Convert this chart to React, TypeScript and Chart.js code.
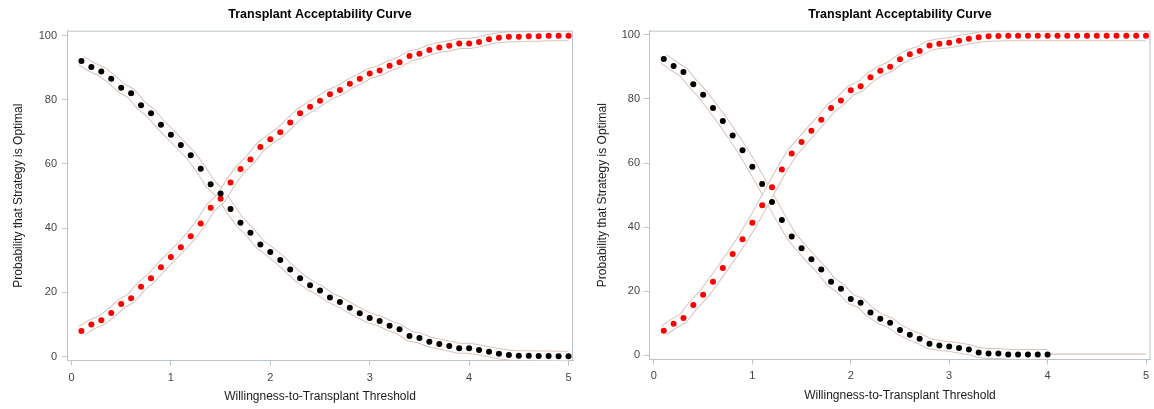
import React, { useEffect, useRef } from "react";
import { Chart, registerables } from "chart.js";

Chart.register(...registerables);

// ---------- data ----------
const thresholds = [
  0.1, 0.2, 0.3, 0.4, 0.5, 0.6, 0.7, 0.8, 0.9, 1.0,
  1.1, 1.2, 1.3, 1.4, 1.5, 1.6, 1.7, 1.8, 1.9, 2.0,
  2.1, 2.2, 2.3, 2.4, 2.5, 2.6, 2.7, 2.8, 2.9, 3.0,
  3.1, 3.2, 3.3, 3.4, 3.5, 3.6, 3.7, 3.8, 3.9, 4.0,
  4.1, 4.2, 4.3, 4.4, 4.5, 4.6, 4.7, 4.8, 4.9, 5.0,
];

// left panel
const leftBlack = [
  92.1, 90.2, 88.8, 86.5, 83.7, 82.0, 78.3, 75.8, 72.2, 69.1,
  65.9, 62.7, 58.5, 53.7, 50.8, 46.0, 41.7, 38.6, 34.9, 32.6,
  30.1, 27.1, 24.4, 22.2, 20.6, 18.4, 17.0, 15.2, 13.5, 12.0,
  11.1, 9.6, 8.5, 6.4, 5.8, 4.6, 3.9, 3.3, 2.6, 2.6,
  2.1, 1.5, 0.9, 0.5, 0.3, 0.3, 0.2, 0.2, 0.1, 0.1,
];
const leftRed = [
  8.0, 10.0, 11.3, 13.6, 16.4, 18.2, 21.8, 24.4, 27.8, 31.0,
  34.1, 37.5, 41.5, 46.4, 49.2, 54.2, 58.4, 61.4, 65.3, 67.7,
  69.9, 72.9, 75.8, 77.8, 79.7, 81.7, 83.0, 85.0, 86.5, 88.2,
  89.1, 90.6, 91.7, 93.6, 94.3, 95.5, 96.3, 96.8, 97.5, 97.5,
  98.0, 98.8, 99.3, 99.6, 99.6, 99.8, 99.8, 99.9, 99.9, 99.9,
];

// right panel
const rightBlack = [
  92.5, 90.3, 88.4, 84.6, 81.3, 77.2, 73.1, 68.6, 64.0, 58.8,
  53.4, 47.8, 42.2, 37.0, 33.4, 29.9, 26.7, 22.9, 20.7, 17.5,
  16.3, 13.3, 11.3, 10.1, 7.8, 6.3, 5.1, 3.5, 3.0, 2.7,
  2.2, 1.7, 0.8, 0.5, 0.5, 0.2, 0.2, 0.2, 0.2, 0.2,
];
const rightRed = [
  7.6, 9.8, 11.6, 15.6, 18.8, 22.9, 27.2, 31.6, 36.2, 41.3,
  46.8, 52.4, 58.0, 63.0, 66.6, 70.1, 73.5, 77.2, 79.5, 82.7,
  84.0, 86.8, 88.8, 90.1, 92.4, 94.0, 95.0, 96.7, 97.3, 97.6,
  98.2, 98.8, 99.3, 99.6, 99.7, 99.8, 99.8, 99.8, 99.8, 99.8,
  99.8, 99.8, 99.8, 99.8, 99.8, 99.8, 99.8, 99.8, 99.8, 99.8,
];
const rightBlackTailX = [4.0, 5.0];
const rightBlackTailY = [0.3, 0.3];

const xTicks = [0, 1, 2, 3, 4, 5];
const yTicks = [0, 20, 40, 60, 80, 100];

const chartTitle = "Transplant Acceptability Curve";
const xAxisTitle = "Willingness-to-Transplant Threshold";
const yAxisTitle = "Probability that Strategy is Optimal";

// ---------- styling ----------
const FONT = '"Liberation Sans", Arial, Helvetica, sans-serif';
const AXIS = "#bcc5cb";
const BAND = "#d8c3bb";
const TICK_COLOR = "#444444";
const LABEL_COLOR = "#1a1a1a";

function pts(xs: number[], ys: number[]) {
  return ys.map((y, i) => ({ x: xs[i], y }));
}

function bandSets(data: any[], order: number) {
  return [
    {
      data,
      showLine: true,
      borderColor: BAND,
      borderWidth: 11,
      borderJoinStyle: "round",
      borderCapStyle: "butt",
      pointRadius: 0,
      pointHoverRadius: 0,
      order: order + 1,
    },
    {
      data,
      showLine: true,
      borderColor: "#ffffff",
      borderWidth: 9,
      borderJoinStyle: "round",
      borderCapStyle: "butt",
      pointRadius: 0,
      pointHoverRadius: 0,
      order,
    },
  ];
}

function pointSet(data: any[], color: string) {
  return {
    data,
    showLine: false,
    pointRadius: 3,
    pointHoverRadius: 3,
    pointBackgroundColor: color,
    pointBorderWidth: 0,
    borderColor: color,
    order: 0,
  };
}

const framePlugin = {
  id: "frame",
  afterDatasetsDraw(chart: any) {
    const { ctx, chartArea: a } = chart;
    ctx.save();
    ctx.strokeStyle = AXIS;
    ctx.lineWidth = 1;
    ctx.beginPath();
    ctx.moveTo(a.left, a.top + 0.5);
    ctx.lineTo(a.right - 0.5, a.top + 0.5);
    ctx.lineTo(a.right - 0.5, a.bottom);
    ctx.stroke();
    ctx.restore();
  },
};

type PanelOpts = {
  datasets: any[];
  yWidth: number;
  xHeight: number;
  padRight: number;
  yTitlePad: number;
  yTickLen: number;
  yTickPad: number;
  xTickPad: number;
  xTitlePad: number;
  yMin: number;
  yMax: number;
};

function makeConfig(o: PanelOpts): any {
  return {
    type: "scatter",
    data: { datasets: o.datasets },
    plugins: [framePlugin],
    options: {
      animation: false,
      responsive: false,
      devicePixelRatio: 1,
      events: [],
      layout: { padding: { left: 0, right: o.padRight, top: 0, bottom: 0 } },
      plugins: {
        legend: { display: false },
        tooltip: { enabled: false },
        title: {
          display: true,
          text: chartTitle,
          fullSize: false,
          color: "#000",
          font: { family: FONT, size: 12.5, weight: "bold" },
          padding: { top: 7, bottom: 8.7 },
        },
      },
      scales: {
        x: {
          type: "linear",
          min: -0.045,
          max: 5.045,
          afterFit: (s: any) => {
            s.height = o.xHeight;
          },
          afterBuildTicks: (s: any) => {
            s.ticks = xTicks.map((v) => ({ value: v }));
          },
          ticks: {
            font: { family: FONT, size: 11 },
            color: TICK_COLOR,
            padding: o.xTickPad,
            maxRotation: 0,
            autoSkip: false,
          },
          grid: {
            display: true,
            drawOnChartArea: false,
            drawTicks: true,
            tickLength: 5,
            color: AXIS,
          },
          border: { display: true, color: AXIS, width: 1 },
          title: {
            display: true,
            text: xAxisTitle,
            color: LABEL_COLOR,
            font: { family: FONT, size: 12 },
            padding: { top: 0, bottom: o.xTitlePad },
          },
        },
        y: {
          type: "linear",
          min: o.yMin,
          max: o.yMax,
          afterFit: (s: any) => {
            s.width = o.yWidth;
          },
          afterBuildTicks: (s: any) => {
            s.ticks = yTicks.map((v) => ({ value: v }));
          },
          ticks: {
            font: { family: FONT, size: 11 },
            color: TICK_COLOR,
            padding: o.yTickPad,
            autoSkip: false,
          },
          grid: {
            display: true,
            drawOnChartArea: false,
            drawTicks: true,
            tickLength: o.yTickLen,
            color: AXIS,
          },
          border: { display: true, color: AXIS, width: 1 },
          title: {
            display: true,
            text: yAxisTitle,
            color: LABEL_COLOR,
            font: { family: FONT, size: 12 },
            padding: { top: o.yTitlePad, bottom: 0 },
          },
        },
      },
    },
  };
}

function Panel({ left, width, opts }: { left: number; width: number; opts: PanelOpts }) {
  const ref = useRef<HTMLCanvasElement | null>(null);
  useEffect(() => {
    if (!ref.current) return;
    const chart = new Chart(ref.current, makeConfig(opts));
    return () => chart.destroy();
  }, []);
  return (
    <canvas
      ref={ref}
      width={width}
      height={409}
      style={{ position: "absolute", left, top: 0, width, height: 409 }}
    />
  );
}

export default function App() {
  const lb = pts(thresholds, leftBlack);
  const lr = pts(thresholds, leftRed);
  const rb = pts(thresholds, rightBlack);
  const rr = pts(thresholds, rightRed);
  const tail = pts(rightBlackTailX, rightBlackTailY);

  const leftOpts: PanelOpts = {
    datasets: [
      ...bandSets(lb, 3),
      ...bandSets(lr, 1),
      pointSet(lb, "#000000"),
      pointSet(lr, "#ff0000"),
    ],
    yWidth: 67,
    xHeight: 48.5,
    padRight: 5,
    yTitlePad: 11.5,
    yTickLen: 5,
    yTickPad: 5,
    xTickPad: 5.4,
    xTitlePad: 5.3,
    yMin: -1.2,
    yMax: 101.5,
  };

  const rightOpts: PanelOpts = {
    datasets: [
      ...bandSets(rb, 3),
      ...bandSets(rr, 1),
      {
        data: tail,
        showLine: true,
        borderColor: BAND,
        borderWidth: 1.2,
        pointRadius: 0,
        pointHoverRadius: 0,
        order: 1,
      },
      pointSet(rb, "#000000"),
      pointSet(rr, "#ff0000"),
    ],
    yWidth: 71.5,
    xHeight: 49.5,
    padRight: 2.3,
    yTitlePad: 17.3,
    yTickLen: 6,
    yTickPad: 3.5,
    xTickPad: 4.9,
    xTitlePad: 6.3,
    yMin: -1.4,
    yMax: 101.34,
  };

  return (
    <div
      style={{
        position: "fixed",
        left: 0,
        top: 0,
        width: 1154,
        height: 409,
        background: "#ffffff",
        overflow: "hidden",
      }}
    >
      <Panel left={0} width={578} opts={leftOpts} />
      <Panel left={578} width={576} opts={rightOpts} />
    </div>
  );
}
